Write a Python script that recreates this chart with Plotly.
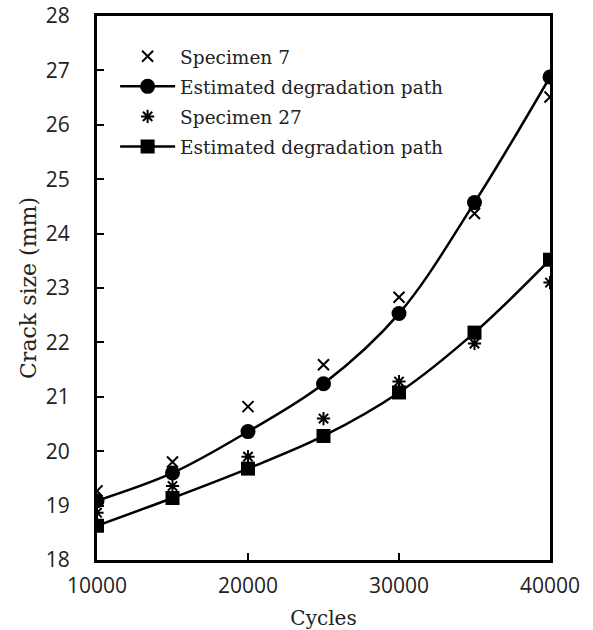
import plotly.graph_objects as go

cycles = [10000, 15000, 20000, 25000, 30000, 35000, 40000]
specimen_7 = [19.27, 19.80, 20.82, 21.59, 22.83, 24.37, 26.51]
path_7 = [19.09, 19.60, 20.36, 21.24, 22.53, 24.57, 26.88]
specimen_27 = [18.87, 19.36, 19.90, 20.60, 21.28, 21.98, 23.10]
path_27 = [18.63, 19.14, 19.68, 20.28, 21.08, 22.18, 23.52]

x_ticks = [10000, 20000, 30000, 40000]
y_ticks = list(range(18, 29))

serif = "DejaVu Serif"
sans = "Open Sans"

fig = go.Figure()
fig.add_trace(go.Scatter(
    x=cycles, y=specimen_7, mode="markers", name="Specimen 7", legendgroup="a",
    marker=dict(symbol="x-thin", size=11, color="black",
                line=dict(width=2, color="black")),
))
fig.add_trace(go.Scatter(
    x=cycles, y=path_7, mode="lines+markers", name="Estimated degradation path",
    legendgroup="b",
    line=dict(shape="spline", width=2.5, color="black"),
    marker=dict(symbol="circle", size=15, color="black"),
))
fig.add_trace(go.Scatter(
    x=cycles, y=specimen_27, mode="markers", name="Specimen 27", legendgroup="c",
    marker=dict(symbol="asterisk", size=11, color="black",
                line=dict(width=2, color="black")),
))
fig.add_trace(go.Scatter(
    x=cycles, y=path_27, mode="lines+markers", name="Estimated degradation path",
    legendgroup="d",
    line=dict(shape="spline", width=2.5, color="black"),
    marker=dict(symbol="square", size=14, color="black"),
))

axis_common = dict(
    showline=True, linewidth=3, linecolor="black", mirror=True,
    ticks="inside", ticklen=7, tickwidth=1.5, tickcolor="black",
    showgrid=False, zeroline=False, automargin=False,
    tickfont=dict(family=sans, size=21, color="#222"),
)

fig.update_xaxes(
    range=[10000, 40000], tickvals=x_ticks, ticktext=[str(v) for v in x_ticks],
    ticklabelstandoff=5,
    title=dict(text="Cycles", font=dict(family=serif, size=20, color="#222"), standoff=15),
    **axis_common,
)
fig.update_yaxes(
    range=[18, 28], tickvals=y_ticks, ticktext=[str(v) for v in y_ticks],
    ticklabelstandoff=20,
    title=dict(text="Crack size (mm)", font=dict(family=serif, size=22, color="#222"), standoff=4),
    **axis_common,
)

fig.update_layout(
    width=593, height=630,
    margin=dict(l=97, r=43, t=16, b=70),
    plot_bgcolor="white", paper_bgcolor="white",
    legend=dict(
        x=0.04, y=0.96, xanchor="left", yanchor="top",
        font=dict(family=serif, size=18.5, color="#222"),
        bgcolor="rgba(0,0,0,0)", tracegroupgap=3, itemwidth=55,
    ),
)

fig.write_html("out.html")
